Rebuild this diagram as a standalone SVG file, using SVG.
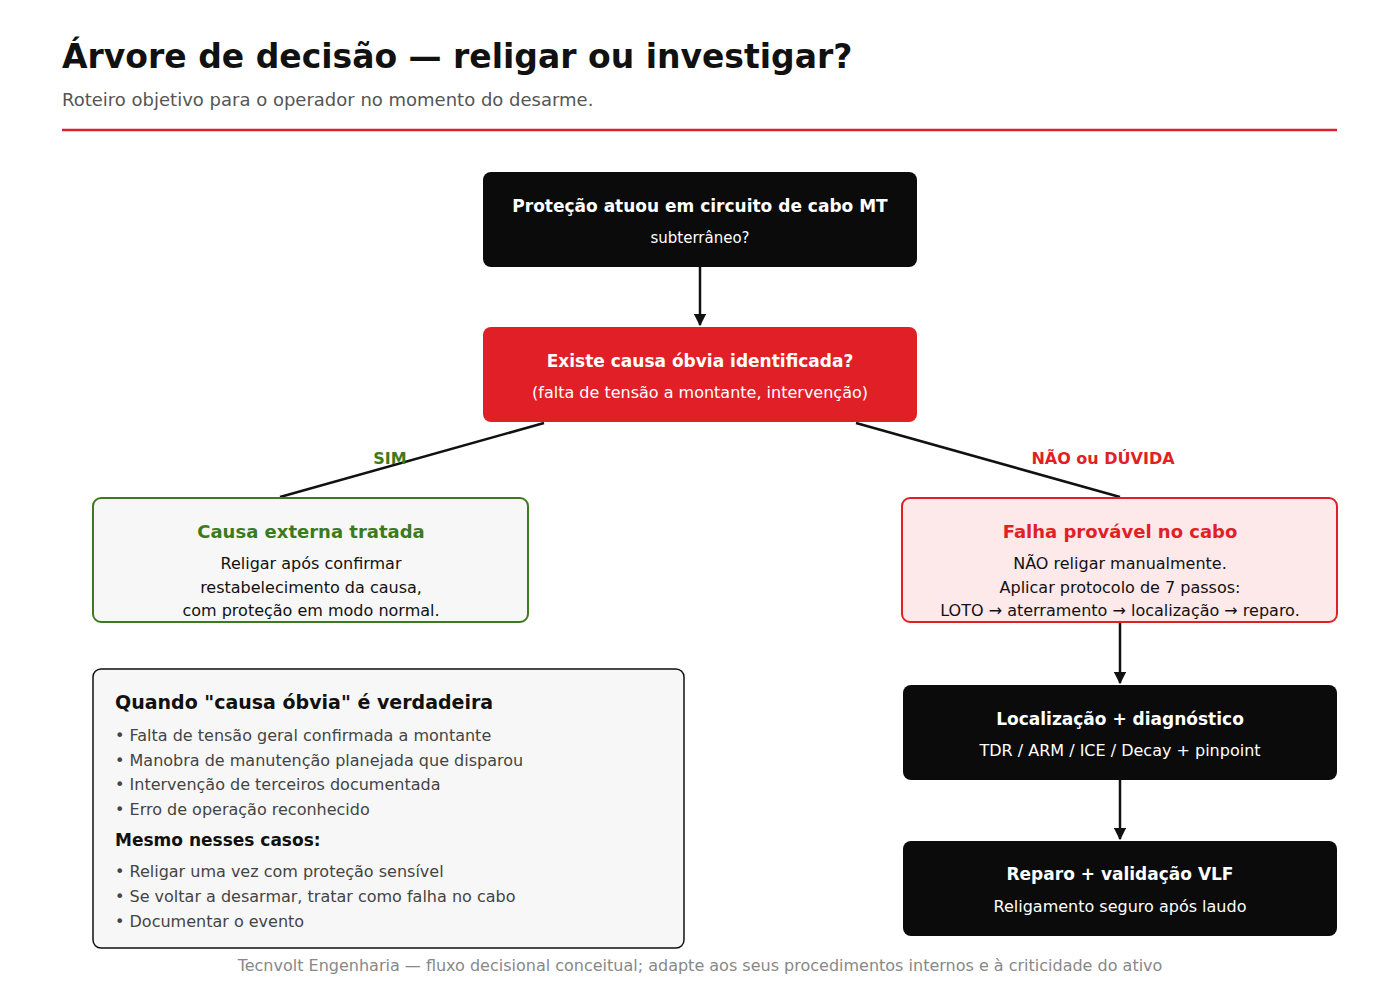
<svg xmlns="http://www.w3.org/2000/svg" width="1400" height="996" viewBox="0 0 1400 996">
<defs>
<marker id="ah" viewBox="0 0 10 10" refX="9" refY="5" markerWidth="5" markerHeight="5" orient="auto"><path d="M0,0L10,5L0,10z" fill="#111"/></marker>
<style>
text{font-family:"DejaVu Sans","Noto Sans",sans-serif}
.b{font-weight:bold}
.w{fill:#fff}
.c{text-anchor:middle}
.dark{fill:#0b0b0b}
.g{fill:#444;font-size:16px}
.con{stroke:#111;stroke-width:2.5;fill:none}
</style>
</defs>
<rect width="1400" height="996" fill="#fff"/>
<text x="62" y="68" class="b" font-size="33" fill="#111">Árvore de decisão — religar ou investigar?</text>
<text x="62" y="106" font-size="18" fill="#555">Roteiro objetivo para o operador no momento do desarme.</text>
<line x1="62" y1="130" x2="1337" y2="130" stroke="#e11f26" stroke-width="2.5"/>
<g id="connectors">
<line class="con" x1="700" y1="267" x2="700" y2="325" marker-end="url(#ah)"/>
<line class="con" x1="544" y1="423" x2="280" y2="497"/>
<line class="con" x1="856" y1="423" x2="1120" y2="497"/>
<line class="con" x1="1120" y1="622" x2="1120" y2="683" marker-end="url(#ah)"/>
<line class="con" x1="1120" y1="780" x2="1120" y2="839" marker-end="url(#ah)"/>
<text x="390" y="464" class="b c" font-size="16" fill="#3d7a1e">SIM</text>
<text x="1103" y="464" class="b c" font-size="16" fill="#e11f26">NÃO ou DÚVIDA</text>
</g>
<g id="n1"><rect x="483" y="172" width="434" height="95" rx="8" class="dark"/>
<text x="700" y="212" class="b w c" font-size="17">Proteção atuou em circuito de cabo MT</text>
<text x="700" y="243" class="w c" font-size="15">subterrâneo?</text></g>
<g id="n2"><rect x="483" y="327" width="434" height="95" rx="8" fill="#e11f26"/>
<text x="700" y="367" class="b w c" font-size="17">Existe causa óbvia identificada?</text>
<text x="700" y="398" class="w c" font-size="16">(falta de tensão a montante, intervenção)</text></g>
<g id="n3"><rect x="93" y="498" width="435" height="124" rx="8" fill="#f7f7f7" stroke="#3d7a1e" stroke-width="2"/>
<text x="311" y="538" class="b c" font-size="18" fill="#3d7a1e">Causa externa tratada</text>
<text x="311" y="569" class="c" font-size="16" fill="#111">Religar após confirmar</text>
<text x="311" y="593" class="c" font-size="16" fill="#111">restabelecimento da causa,</text>
<text x="311" y="616" class="c" font-size="16" fill="#111">com proteção em modo normal.</text></g>
<g id="n4"><rect x="902" y="498" width="435" height="124" rx="8" fill="#fde8ea" stroke="#e11f26" stroke-width="2"/>
<text x="1120" y="538" class="b c" font-size="18" fill="#e11f26">Falha provável no cabo</text>
<text x="1120" y="569" class="c" font-size="16" fill="#111">NÃO religar manualmente.</text>
<text x="1120" y="593" class="c" font-size="16" fill="#111">Aplicar protocolo de 7 passos:</text>
<text x="1120" y="616" class="c" font-size="16" fill="#111">LOTO → aterramento → localização → reparo.</text></g>
<g id="n5"><rect x="903" y="685" width="434" height="95" rx="8" class="dark"/>
<text x="1120" y="725" class="b w c" font-size="17">Localização + diagnóstico</text>
<text x="1120" y="756" class="w c" font-size="16">TDR / ARM / ICE / Decay + pinpoint</text></g>
<g id="n6"><rect x="903" y="841" width="434" height="95" rx="8" class="dark"/>
<text x="1120" y="880" class="b w c" font-size="17">Reparo + validação VLF</text>
<text x="1120" y="912" class="w c" font-size="16">Religamento seguro após laudo</text></g>
<g id="info"><rect x="93" y="669" width="591" height="279" rx="8" fill="#f7f7f7" stroke="#111" stroke-width="1.5"/>
<text x="115" y="709" class="b" font-size="19" fill="#111">Quando "causa óbvia" é verdadeira</text>
<text x="115" y="741" class="g">• Falta de tensão geral confirmada a montante</text>
<text x="115" y="766" class="g">• Manobra de manutenção planejada que disparou</text>
<text x="115" y="790" class="g">• Intervenção de terceiros documentada</text>
<text x="115" y="815" class="g">• Erro de operação reconhecido</text>
<text x="115" y="846" class="b" font-size="17" fill="#111">Mesmo nesses casos:</text>
<text x="115" y="877" class="g">• Religar uma vez com proteção sensível</text>
<text x="115" y="902" class="g">• Se voltar a desarmar, tratar como falha no cabo</text>
<text x="115" y="927" class="g">• Documentar o evento</text></g>
<text x="700" y="971" class="c" font-size="16" fill="#888">Tecnvolt Engenharia — fluxo decisional conceitual; adapte aos seus procedimentos internos e à criticidade do ativo</text>
</svg>
